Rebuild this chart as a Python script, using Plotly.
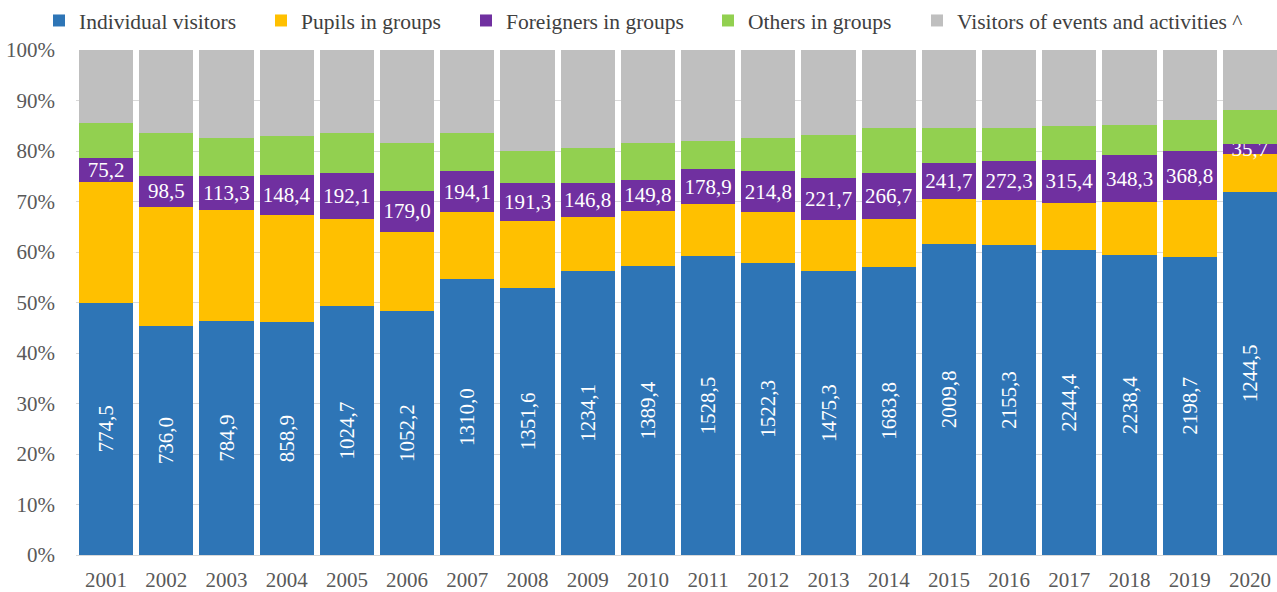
import plotly.graph_objects as go

years = [str(y) for y in range(2001, 2021)]

# Shares of total visitors (%)
individual = [50.0, 45.3, 46.3, 46.1, 49.3, 48.3, 54.6, 52.9, 56.3, 57.3,
              59.2, 57.9, 56.2, 57.1, 61.6, 61.3, 60.3, 59.4, 59.1, 71.9]
pupils = [23.8, 23.7, 22.1, 21.3, 17.2, 15.7, 13.3, 13.3, 10.7, 10.8,
          10.3, 10.0, 10.1, 9.5, 8.8, 9.0, 9.5, 10.5, 11.1, 7.5]
foreigners = [4.9, 6.1, 6.7, 7.9, 9.2, 8.1, 8.1, 7.5, 6.7, 6.2,
              6.9, 8.1, 8.4, 9.0, 7.3, 7.7, 8.4, 9.3, 9.8, 2.0]
others = [6.9, 8.5, 7.5, 7.7, 7.9, 9.4, 7.6, 6.3, 6.8, 7.3,
          5.6, 6.6, 8.5, 9.0, 6.9, 6.6, 6.8, 6.0, 6.2, 6.8]
events = [14.4, 16.4, 17.4, 17.0, 16.4, 18.5, 16.4, 20.0, 19.5, 18.4,
          18.0, 17.4, 16.8, 15.4, 15.4, 15.4, 15.0, 14.8, 13.8, 11.8]

# Absolute values (thousands) shown as labels
individual_labels = [774.5, 736.0, 784.9, 858.9, 1024.7, 1052.2, 1310.0, 1351.6, 1234.1, 1389.4,
                     1528.5, 1522.3, 1475.3, 1683.8, 2009.8, 2155.3, 2244.4, 2238.4, 2198.7, 1244.5]
foreigner_labels = [75.2, 98.5, 113.3, 148.4, 192.1, 179.0, 194.1, 191.3, 146.8, 149.8,
                    178.9, 214.8, 221.7, 266.7, 241.7, 272.3, 315.4, 348.3, 368.8, 35.7]

y_ticks = list(range(0, 101, 10))
y_tick_text = [f"{v}%" for v in y_ticks]

names = ["Individual visitors", "Pupils in groups", "Foreigners in groups",
         "Others in groups", "Visitors of events and activities ^"]
colors = ["#2E75B6", "#FFC000", "#7030A0", "#92D050", "#BFBFBF"]
legend_ids = ["legend", "legend2", "legend3", "legend4", "legend5"]
legend_text_x = [79, 301, 506, 748, 957]

FONT = "Liberation Serif, Times New Roman, serif"
W, H = 1277, 592


def fmt(v):
    return f"{v:.1f}".replace(".", ",")


series = [individual, pupils, foreigners, others, events]
texts = [[fmt(v) for v in individual_labels], None,
         [fmt(v) for v in foreigner_labels], None, None]
angles = [-90, 0, 0, 0, 0]

fig = go.Figure()
for vals, name, col, txt, ang, lg in zip(series, names, colors, texts, angles, legend_ids):
    fig.add_trace(go.Bar(
        x=years, y=vals, name=name, legend=lg,
        marker=dict(color=col, line=dict(width=0)),
        text=txt,
        textposition="inside" if txt else "none",
        insidetextanchor="middle",
        textangle=ang,
        constraintext="none",
        textfont=dict(family=FONT, size=21, color="white"),
        hoverinfo="skip",
    ))

legends = {}
for lg, tx in zip(legend_ids, legend_text_x):
    legends[lg] = dict(
        orientation="h",
        xref="container", yref="container",
        x=(tx - 40) / W, y=1.0, xanchor="left", yanchor="top",
        font=dict(family=FONT, size=21.5, color="#404040"),
        bgcolor="rgba(0,0,0,0)",
        borderwidth=0,
    )

fig.update_layout(
    barmode="stack",
    bargap=0.1,
    width=W, height=H,
    margin=dict(l=76, r=0, t=50, b=37, autoexpand=False),
    paper_bgcolor="white", plot_bgcolor="white",
    font=dict(family=FONT, size=21, color="#595959"),
    showlegend=True,
    xaxis=dict(
        type="category",
        range=[-0.5, 19.45],
        showgrid=False,
        showline=True, linecolor="#D9D9D9", linewidth=1,
        ticks="", tickfont=dict(family=FONT, size=21, color="#595959"),
        ticklabelstandoff=6,
    ),
    yaxis=dict(
        range=[0, 100],
        tickmode="array",
        tickvals=y_ticks,
        ticktext=y_tick_text,
        showgrid=True, gridcolor="#D9D9D9", gridwidth=1,
        zeroline=False,
        ticks="", tickfont=dict(family=FONT, size=21, color="#595959"),
        ticklabelstandoff=20,
    ),
    **legends,
)

fig.write_html(
    "out.html",
    config={"displayModeBar": False, "staticPlot": True},
    post_script="document.body.style.margin='0';document.body.style.overflow='hidden';",
)
